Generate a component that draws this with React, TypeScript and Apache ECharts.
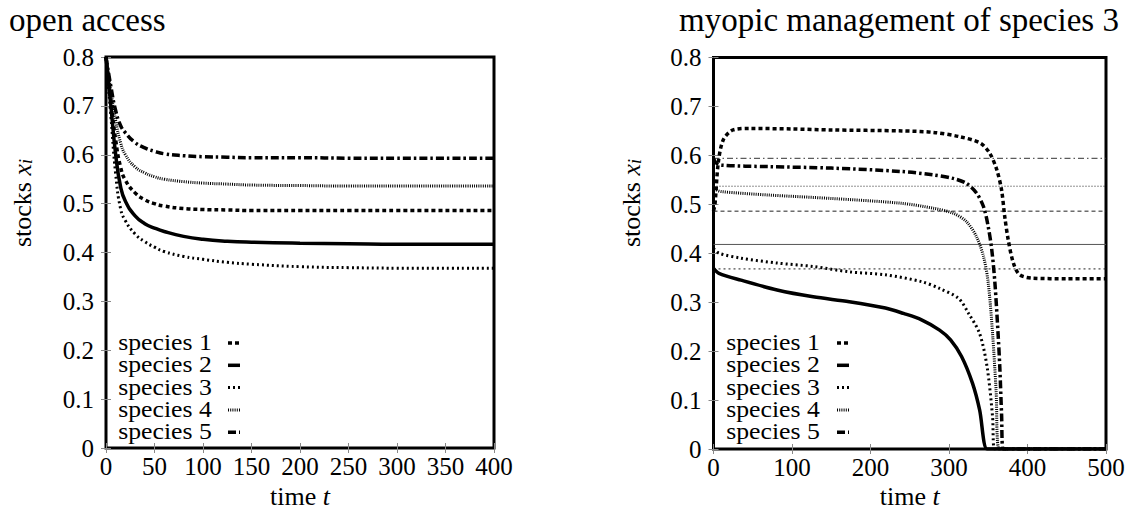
import React, { useEffect, useRef } from "react";
import * as echarts from "echarts";

// ---------- data ----------
const speciesNames = ["species 1", "species 2", "species 3", "species 4", "species 5"];

// open access (left panel)
const oaT = [0, 5, 10, 15, 20, 30, 40, 50, 60, 80, 100, 125, 150, 200, 250, 300, 400];
const oa1 = [0.8, 0.71, 0.63, 0.575, 0.548, 0.522, 0.508, 0.5, 0.495, 0.49, 0.488, 0.487, 0.486, 0.486, 0.486, 0.486, 0.486];
const oa2 = [0.8, 0.7, 0.6, 0.535, 0.505, 0.475, 0.459, 0.45, 0.443, 0.433, 0.427, 0.423, 0.421, 0.419, 0.418, 0.417, 0.417];
const oa3 = [0.8, 0.68, 0.56, 0.49, 0.465, 0.438, 0.422, 0.411, 0.402, 0.392, 0.386, 0.38, 0.376, 0.371, 0.369, 0.368, 0.368];
const oa4 = [0.8, 0.73, 0.67, 0.625, 0.6, 0.575, 0.563, 0.555, 0.55, 0.545, 0.542, 0.54, 0.538, 0.537, 0.536, 0.536, 0.536];
const oa5 = [0.8, 0.74, 0.69, 0.66, 0.645, 0.625, 0.614, 0.607, 0.602, 0.598, 0.596, 0.595, 0.594, 0.594, 0.593, 0.593, 0.593];

// myopic management of species 3 (right panel)
const mmT1 = [0, 2, 6, 12.5, 25, 46, 100, 150, 240, 280, 314, 340, 352, 361, 367, 371, 375.5, 382, 390, 407, 450, 500];
const mmV1 = [0.486, 0.502, 0.584, 0.632, 0.652, 0.655, 0.654, 0.652, 0.65, 0.647, 0.638, 0.625, 0.604, 0.57, 0.529, 0.475, 0.427, 0.38, 0.356, 0.349, 0.348, 0.348];
const mmT2 = [0, 7, 35, 81, 127, 173, 219, 242, 265, 288, 302, 316, 330, 339, 348.5, 360, 500];
const mmV2 = [0.369, 0.359, 0.345, 0.325, 0.311, 0.301, 0.288, 0.277, 0.264, 0.243, 0.223, 0.189, 0.134, 0.08, 0, 0, 0];
const mmT3 = [0, 7, 35, 81, 127, 173, 219, 265, 288, 312, 325, 339, 348.5, 355.5, 358, 380, 500];
const mmV3 = [0.41, 0.4, 0.39, 0.38, 0.373, 0.362, 0.356, 0.342, 0.328, 0.308, 0.277, 0.236, 0.168, 0.066, 0, 0, 0];
const mmT4 = [0, 3, 10, 70, 150, 240, 280, 305, 322, 335, 344, 350, 355.5, 360, 364, 380, 500];
const mmV4 = [0.536, 0.53, 0.526, 0.519, 0.512, 0.502, 0.492, 0.482, 0.465, 0.434, 0.393, 0.339, 0.236, 0.12, 0, 0, 0];
const mmT5 = [0, 3, 10, 70, 150, 240, 280, 305, 322, 335, 344, 350, 354.5, 358.5, 362.5, 364.7, 367, 369, 380, 500];
const mmV5 = [0.594, 0.585, 0.58, 0.577, 0.574, 0.567, 0.56, 0.553, 0.543, 0.523, 0.495, 0.454, 0.407, 0.339, 0.236, 0.168, 0.07, 0, 0, 0];

// open-access steady states shown as thin reference lines (species 1..5)
const refLevels = [0.486, 0.418, 0.368, 0.537, 0.594];
const refSpan = [0, 500];

// axes / tick labels
const leftXTicks = [0, 50, 100, 150, 200, 250, 300, 350, 400];
const rightXTicks = [0, 100, 200, 300, 400, 500];
const yTicks = [0, 0.1, 0.2, 0.3, 0.4, 0.5, 0.6, 0.7, 0.8];

const leftTitle = "open access";
const rightTitle = "myopic management of species 3";
const xName = "time";
const yName = "stocks";

// ---------- styles ----------
const FONT = "Liberation Serif";
const speciesStyle = [
  { width: 3.5, type: [4, 3] as any },
  { width: 3.5, type: "solid" as any },
  { width: 3, type: [2, 3] as any },
  { width: 3, type: [1, 1.2] as any },
  { width: 3.5, type: [8, 3, 2.5, 3] as any },
];
const refStyle = [
  { type: [4, 3] as any, color: "#222" },
  { type: "solid" as any, color: "#555" },
  { type: [2, 3] as any, color: "#222" },
  { type: [1, 2] as any, color: "#222" },
  { type: [6, 3, 1.5, 3] as any, color: "#333" },
];

const zip = (t: number[], v: number[]) => t.map((x, i) => [x, v[i]]);

const G = [
  { left: 106, top: 57, width: 388, height: 391 },
  { left: 713.5, top: 57.5, width: 392.5, height: 391.5 },
];

export default function App() {
  const ref = useRef<HTMLDivElement>(null);
  useEffect(() => {
    if (!ref.current) return;
    const chart = echarts.init(ref.current, undefined, { renderer: "svg" });

    const labelStyle = { fontFamily: FONT, fontSize: 25, color: "#000" };
    const tick = { show: true, inside: true, length: 5, lineStyle: { color: "#888", width: 1 } };

    const mkX = (gi: number, ticks: number[], top: boolean) => ({
      gridIndex: gi,
      type: "value",
      position: top ? "top" : "bottom",
      min: ticks[0],
      max: ticks[ticks.length - 1],
      interval: ticks[1] - ticks[0],
      axisLine: { show: false },
      axisTick: tick,
      axisLabel: top ? { show: false } : { ...labelStyle, margin: 6 },
      splitLine: { show: false },
    });
    const mkY = (gi: number, right: boolean) => ({
      gridIndex: gi,
      type: "value",
      position: right ? "right" : "left",
      min: yTicks[0],
      max: yTicks[yTicks.length - 1],
      interval: 0.1,
      axisLine: { show: false },
      axisTick: tick,
      axisLabel: right ? { show: false } : { ...labelStyle, margin: 12 },
      splitLine: { show: false },
    });

    const leftData = [oa1, oa2, oa3, oa4, oa5];
    const rightData = [
      zip(mmT1, mmV1),
      zip(mmT2, mmV2),
      zip(mmT3, mmV3),
      zip(mmT4, mmV4),
      zip(mmT5, mmV5),
    ];

    const series: any[] = [];
    leftData.forEach((vals, i) => {
      series.push({
        type: "line",
        name: speciesNames[i],
        xAxisIndex: 0,
        yAxisIndex: 0,
        data: zip(oaT, vals),
        showSymbol: false,
        symbol: "none",
        smooth: 0.5,
        lineStyle: { color: "#000", width: speciesStyle[i].width, type: speciesStyle[i].type, cap: "butt" },
      });
    });
    refLevels.forEach((lv, i) => {
      series.push({
        type: "line",
        name: "ref " + (i + 1),
        xAxisIndex: 2,
        yAxisIndex: 2,
        data: refSpan.map((t) => [t, lv]),
        showSymbol: false,
        symbol: "none",
        lineStyle: { color: refStyle[i].color, width: 1, type: refStyle[i].type },
      });
    });
    rightData.forEach((d, i) => {
      series.push({
        type: "line",
        name: speciesNames[i],
        xAxisIndex: 2,
        yAxisIndex: 2,
        data: d,
        showSymbol: false,
        symbol: "none",
        smooth: 0.3,
        lineStyle: { color: "#000", width: speciesStyle[i].width, type: speciesStyle[i].type, cap: "butt" },
      });
    });

    const graphic: any[] = [];
    // titles
    graphic.push({
      type: "text", x: 9, y: 20,
      style: { text: leftTitle, fontFamily: FONT, fontSize: 33, fill: "#000", textAlign: "left", textVerticalAlign: "middle" },
    });
    graphic.push({
      type: "text", x: 899, y: 20,
      style: { text: rightTitle, fontFamily: FONT, fontSize: 33, fill: "#000", textAlign: "center", textVerticalAlign: "middle" },
    });
    const rich = {
      it: { fontFamily: FONT, fontSize: 26, fontStyle: "italic", fill: "#000" },
      sub: { fontFamily: FONT, fontSize: 18, fontStyle: "italic", fill: "#000", verticalAlign: "bottom", padding: [7, 0, 0, 0] },
    };
    G.forEach((g, gi) => {
      // x axis name
      graphic.push({
        type: "text", x: g.left + g.width / 2, y: 496,
        style: { text: xName + " {it|t}", rich, fontFamily: FONT, fontSize: 26, fill: "#000", textAlign: "center", textVerticalAlign: "middle" },
      });
      // y axis name
      graphic.push({
        type: "text", x: gi === 0 ? 22 : 631, y: 203, rotation: Math.PI / 2,
        style: { text: yName + " {it|x}{sub|i}", rich, fontFamily: FONT, fontSize: 26, fill: "#000", textAlign: "center", textVerticalAlign: "middle" },
      });
      // legend
      const textCx = gi === 0 ? 165 : 773;
      const sx1 = gi === 0 ? 228 : 837;
      speciesNames.forEach((nm, i) => {
        const cy = 342 + i * 22.3;
        graphic.push({
          type: "text", x: textCx, y: cy, scaleX: 1.12,
          style: { text: nm, fontFamily: FONT, fontSize: 23, fill: "#000", textAlign: "center", textVerticalAlign: "middle" },
        });
        graphic.push({
          type: "line",
          shape: { x1: sx1, y1: cy + 1, x2: sx1 + 12, y2: cy + 1 },
          style: {
            stroke: "#000",
            lineWidth: speciesStyle[i].width,
            lineDash: Array.isArray(speciesStyle[i].type) ? speciesStyle[i].type : null,
            lineCap: "butt",
          },
        });
      });
    });

    chart.setOption({
      animation: false,
      backgroundColor: "#fff",
      grid: G.map((g) => ({ ...g, show: true, borderColor: "#000", borderWidth: 3, backgroundColor: "transparent", containLabel: false })),
      xAxis: [mkX(0, leftXTicks, false), mkX(0, leftXTicks, true), mkX(1, rightXTicks, false), mkX(1, rightXTicks, true)],
      yAxis: [mkY(0, false), mkY(0, true), mkY(1, false), mkY(1, true)],
      series,
      graphic,
    } as any);

    return () => chart.dispose();
  }, []);

  return (
    <div
      ref={ref}
      style={{ position: "fixed", left: 0, top: 0, width: 1128, height: 509, background: "#fff" }}
    />
  );
}
